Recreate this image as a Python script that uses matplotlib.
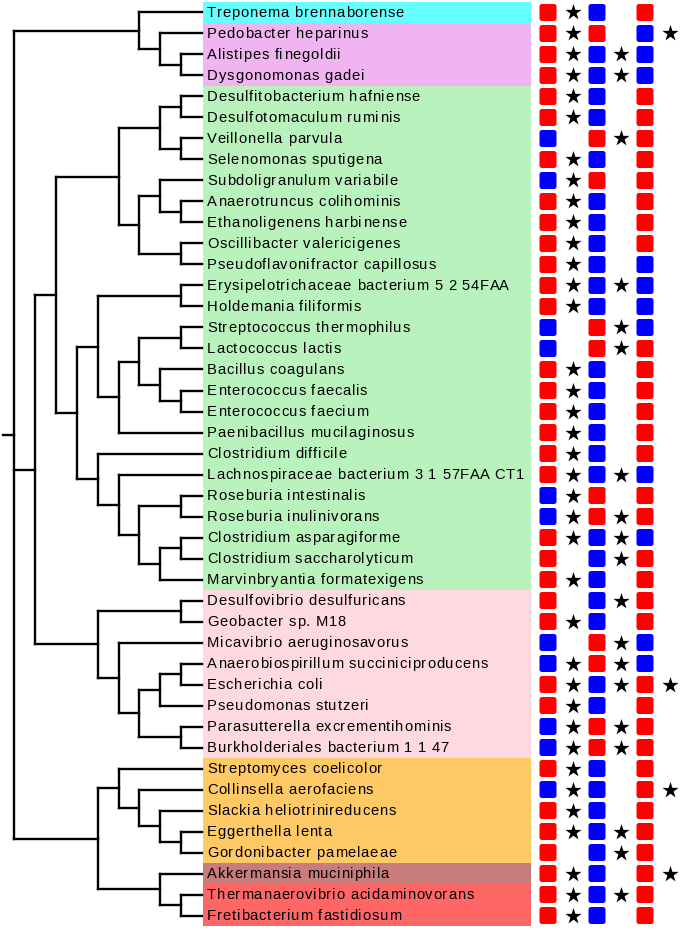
import matplotlib
matplotlib.use("Agg")
import matplotlib.pyplot as plt
from matplotlib.font_manager import FontProperties
from matplotlib.patches import FancyBboxPatch, Rectangle

# --- data -------------------------------------------------------------
species = [
    "Treponema brennaborense", "Pedobacter heparinus", "Alistipes finegoldii",
    "Dysgonomonas gadei", "Desulfitobacterium hafniense", "Desulfotomaculum ruminis",
    "Veillonella parvula", "Selenomonas sputigena", "Subdoligranulum variabile",
    "Anaerotruncus colihominis", "Ethanoligenens harbinense", "Oscillibacter valericigenes",
    "Pseudoflavonifractor capillosus", "Erysipelotrichaceae bacterium 5 2 54FAA",
    "Holdemania filiformis", "Streptococcus thermophilus", "Lactococcus lactis",
    "Bacillus coagulans", "Enterococcus faecalis", "Enterococcus faecium",
    "Paenibacillus mucilaginosus", "Clostridium difficile",
    "Lachnospiraceae bacterium 3 1 57FAA CT1", "Roseburia intestinalis",
    "Roseburia inulinivorans", "Clostridium asparagiforme", "Clostridium saccharolyticum",
    "Marvinbryantia formatexigens", "Desulfovibrio desulfuricans", "Geobacter sp. M18",
    "Micavibrio aeruginosavorus", "Anaerobiospirillum succiniciproducens",
    "Escherichia coli", "Pseudomonas stutzeri", "Parasutterella excrementihominis",
    "Burkholderiales bacterium 1 1 47", "Streptomyces coelicolor",
    "Collinsella aerofaciens", "Slackia heliotrinireducens", "Eggerthella lenta",
    "Gordonibacter pamelaeae", "Akkermansia muciniphila",
    "Thermanaerovibrio acidaminovorans", "Fretibacterium fastidiosum",
]

# group of each species (index into group_colors)
groups = [0] + [1] * 3 + [2] * 24 + [3] * 8 + [4] * 5 + [5] + [6] * 2
group_colors = ["#66ffff", "#f0b4f0", "#b9f2bc", "#ffd9e0", "#ffc966", "#c87c7c", "#ff6666"]

# square columns: "R" red, "B" blue
sq1 = list("RRRRRRBRBRRRRRRBBRRRRRRBBRRRRRBBRRBBRBRRRRRR")
sq2 = list("BRBBBBRBRBBBBBBRRBBBBBBRRBBBBBRRBBRRBBBBBBBB")
sq3 = list("RBBBRRRRRRRRBBBBRRRRRRBRRBRRRRBBRRRRRRRRRRRR")
# star columns: 1 = star present
st1 = [1, 1, 1, 1, 1, 1, 0, 1, 1, 1, 1, 1, 1, 1, 1, 0, 0, 1, 1, 1, 1, 1,
       1, 1, 1, 1, 0, 1, 0, 1, 0, 1, 1, 1, 1, 1, 1, 1, 1, 1, 0, 1, 1, 1]
st2 = [0, 0, 1, 1, 0, 0, 1, 0, 0, 0, 0, 0, 0, 1, 0, 1, 1, 0, 0, 0, 0, 0,
       1, 0, 1, 1, 1, 0, 1, 0, 1, 1, 1, 0, 1, 1, 0, 0, 0, 1, 1, 0, 1, 0]
st3 = [0, 1, 0, 0, 0, 0, 0, 0, 0, 0, 0, 0, 0, 0, 0, 0, 0, 0, 0, 0, 0, 0,
       0, 0, 0, 0, 0, 0, 0, 0, 0, 0, 1, 0, 0, 0, 0, 1, 0, 0, 0, 1, 0, 0]

# tree topology as nested tuples of leaf indices
tree = (
    (0, (1, (2, 3))),
    (
        (
            (((4, 5), (6, 7)), ((8, (9, 10)), (11, 12))),
            (
                ((13, 14), (((15, 16), (17, (18, 19))), 20)),
                (21, (22, ((23, 24), ((25, 26), 27)))),
            ),
        ),
        ((28, 29), (30, (((31, 32), 33), (34, 35)))),
    ),
    ((36, (37, (38, (39, 40)))), (41, (42, 43))),
)

# --- layout -------------------------------------------------------------
ROW0, ROWH = 12.5, 21.0
X0, XSTEP = 14.0, 20.9
BOX_L, BOX_R = 203, 531
SQ_X = [548, 597, 645]
ST_X = [573, 621, 670]
SQ = 17
TRACK = 0.8  # extra letter spacing, px
fill = {"R": "#ff0000", "B": "#0000ff"}
font = FontProperties(family="Liberation Sans", size=10.6)


def height(node):
    if isinstance(node, int):
        return 0
    return 1 + max(height(c) for c in node)


HMAX = height(tree)


def row_y(i):
    return ROW0 + ROWH * i


fig = plt.figure(figsize=(6.8, 9.3), dpi=100)
ax = fig.add_axes([0, 0, 1, 1])
ax.set_xlim(0, 680)
ax.set_ylim(930, 0)
ax.axis("off")
renderer = fig.canvas.get_renderer()

line_kw = dict(color="black", lw=1.7, solid_capstyle="projecting")


def draw(node):
    """Draw subtree, return (x, y) of the node."""
    if isinstance(node, int):
        return X0 + XSTEP * HMAX, row_y(node)
    x = X0 + XSTEP * (HMAX - height(node))
    pts = [draw(c) for c in node]
    ys = [p[1] for p in pts]
    for cx, cy in pts:
        ax.plot([x, cx], [cy, cy], **line_kw)
    ax.plot([x, x], [min(ys), max(ys)], **line_kw)
    return x, (min(ys) + max(ys)) / 2


def tracked_text(x, y, s):
    # place characters one by one so the letter spacing can be widened
    for k, ch in enumerate(s):
        if ch != " ":
            w = renderer.get_text_width_height_descent(s[:k] + "|", font, ismath=False)[0] \
                - renderer.get_text_width_height_descent("|", font, ismath=False)[0] if k else 0
            ax.text(x + w + TRACK * k, y, ch, fontproperties=font,
                    va="baseline", ha="left", zorder=2)


rx, ry = draw(tree)
ax.plot([3, rx], [ry, ry], **line_kw)

# label backgrounds and names
for i, name in enumerate(species):
    y = row_y(i)
    ax.add_patch(Rectangle((BOX_L, y - ROWH / 2), BOX_R - BOX_L, ROWH,
                           facecolor=group_colors[groups[i]], edgecolor="none", zorder=1))
    tracked_text(BOX_L + 4, y + 4.5, name)

# marker columns
for col, x in zip([sq1, sq2, sq3], SQ_X):
    for i, c in enumerate(col):
        y = row_y(i)
        ax.add_patch(FancyBboxPatch((x - SQ / 2 + 2.5, y - SQ / 2 + 2.5), SQ - 5, SQ - 5,
                                    boxstyle="round,pad=2.5", facecolor=fill[c],
                                    edgecolor="none", zorder=2))

for col, x in zip([st1, st2, st3], ST_X):
    ys = [row_y(i) for i, s in enumerate(col) if s]
    ax.scatter([x] * len(ys), ys, marker="*", s=150, color="black", linewidths=0, zorder=3)

fig.savefig("out.png", dpi=100)
